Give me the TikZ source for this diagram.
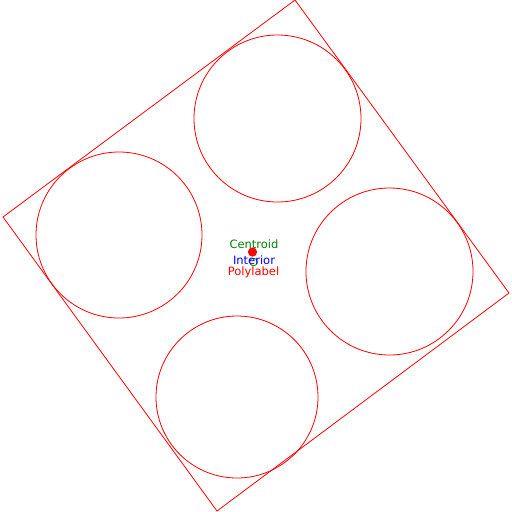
\documentclass[tikz,border=0pt]{standalone}
\usepackage{fontspec}
\setmainfont{DejaVu Sans}
\usetikzlibrary{positioning}

\tikzset{
    shape line/.style={draw=red, line width=0.8pt},
    point label/.style={font=\fontsize{11.5}{12}\selectfont, anchor=base, inner sep=0pt}
}

\begin{document}
\begin{tikzpicture}[x=1pt, y=-1pt]
    \useasboundingbox (0,0) rectangle (512,512);

    % Rotated outer square
    \draw[shape line] (295,0) -- (509,293) -- (217,511) -- (3,217) -- cycle;

    % Four holes
    \draw[shape line] (277.5,118.5) circle (83.5pt);
    \draw[shape line] (119,235) circle (83pt);
    \draw[shape line] (389.5,271.5) circle (83.5pt);
    \draw[shape line] (237,397) circle (81pt);

    % Candidate points
    \fill[red] (252.5,252) circle (4.6pt);
    \draw[green!50!black, line width=0.8pt] (253.5,262) circle (3.8pt);

    % Labels
    \node[point label, green!50!black] (centroid) at (254,248) {Centroid};
    \node[point label, blue] (interior) at (254,264.5) {Interior};
    \node[point label, red] (polylabel) at (253.5,275) {Polylabel};
\end{tikzpicture}
\end{document}
